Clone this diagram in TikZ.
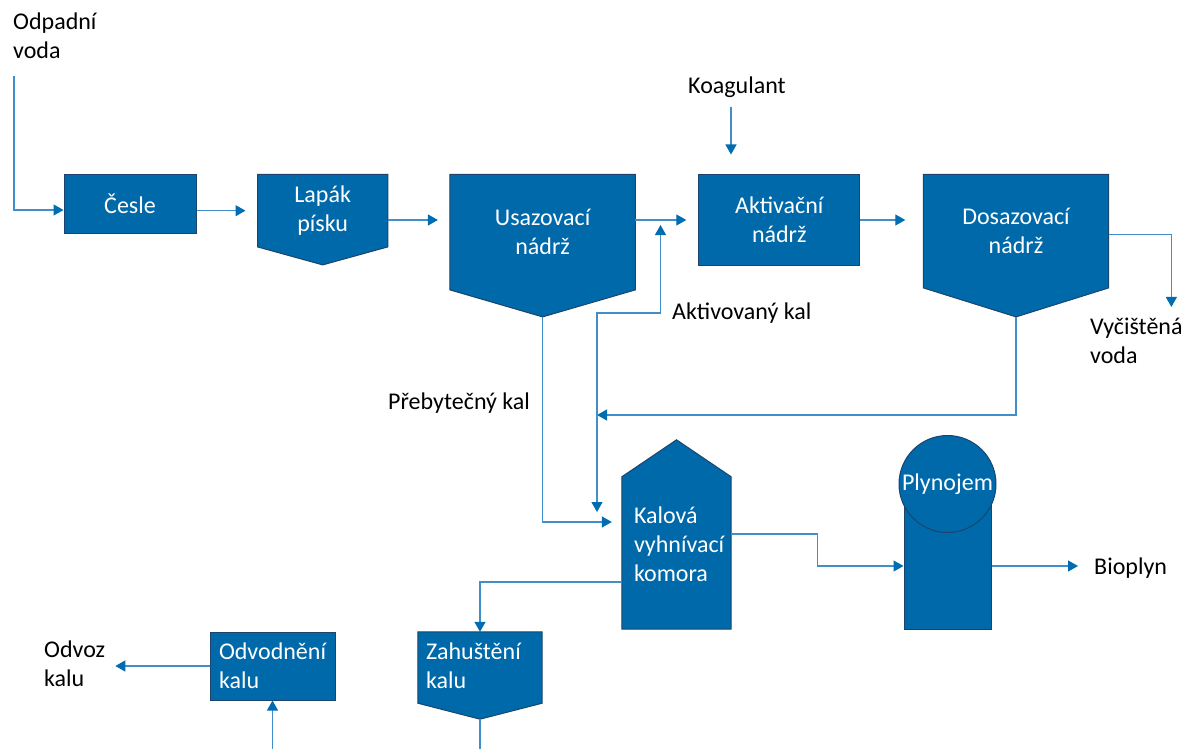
\documentclass[tikz,border=0pt]{standalone}
\usepackage{fontspec}
\setmainfont{Carlito}
\usetikzlibrary{arrows.meta, positioning, calc}
\definecolor{tankblue}{RGB}{0,105,170}
\definecolor{tankedge}{RGB}{28,68,108}
\definecolor{pipeblue}{RGB}{64,142,202}
\definecolor{tipblue}{RGB}{0,108,178}
\tikzset{unit/.style = {
  % Rectangle (outline drawn later):
  rectangle, inner sep=0pt,
  % Text
  text=white, align=center
  }}
\tikzset{box/.style = {
  unit,
  fill=tankblue,
  draw=tankedge, line width=1pt
  }}
\tikzset{txt/.style = {
  inner sep=0pt, align=left, text=black
  }}
\tikzset{pipe/.style = {
  draw=pipeblue,
  line width=1.2pt
  }}
\tikzset{flow/.style = {
  pipe,
  -{Triangle[length=10pt, width=11pt, color=tipblue]}
  }}
\newcommand{\tankdown}[2]{% node, depth of the point
  \filldraw[fill=tankblue, draw=tankedge, line width=1pt]
    (#1.north west) -- (#1.north east) -- (#1.south east)
    -- ($(#1.south)+(0,#2)$) coordinate (#1-tip) -- (#1.south west) -- cycle;}
\newcommand{\tankup}[2]{% node, height of the roof
  \filldraw[fill=tankblue, draw=tankedge, line width=1pt]
    (#1.south west) -- (#1.south east) -- (#1.north east)
    -- ($(#1.north)+(0,-#2)$) -- (#1.north west) -- cycle;}

\begin{document}
\begin{tikzpicture}[x=1pt, y=-1pt, every node/.style={font=\fontsize{24}{29}\selectfont}]
% LAYERS
\pgfdeclarelayer{bg}
\pgfsetlayers{bg,main}
\useasboundingbox (0,0) rectangle (1184,749);

% NODES
\node (cesle) [box, minimum width=132pt, minimum height=58pt] at (130,204) {Česle};
\node (lapak) [unit, minimum width=130pt, minimum height=72pt, right=61pt of cesle.north east, anchor=north west] {Lapák\\písku};
\node (usaz) [unit, minimum width=185pt, minimum height=115pt, right=62pt of lapak.north east, anchor=north west] {Usazovací\\nádrž};
\node (aktiv) [box, minimum width=161pt, minimum height=90pt, right=63pt of usaz.north east, anchor=north west] {Aktivační\\nádrž};
\node (dosaz) [unit, minimum width=185pt, minimum height=113pt, right=63pt of aktiv.north east, anchor=north west] {Dosazovací\\nádrž};

\node (kalova) [unit, align=left, text width=85pt, text depth=76pt, minimum width=109pt, minimum height=152pt] at (676.5,553) {Kalová\\vyhnívací\\komora};
\node (plyn) [box, minimum width=87pt, minimum height=126pt] at (947.5,566) {};
\node (plynhead) [box, circle, minimum size=97pt] at (947.5,484) {Plynojem};
\node (zahus) [unit, align=left, text width=108pt, text depth=32pt, minimum width=124pt, minimum height=71pt] at (480,667.5) {Zahuštění\\kalu};
\node (odvod) [box, align=left, text width=107pt, minimum width=125pt, minimum height=68pt] at (272.5,666) {Odvodnění\\kalu};

\node (odpad) [txt, anchor=west] at (13,36) {Odpadní\\voda};
\node (koag) [txt] at (737,87) {Koagulant};
\node (aktkal) [txt, anchor=west] at (672,313) {Aktivovaný kal};
\node (prebyt) [txt, anchor=west] at (388,403) {Přebytečný kal};
\node (vycist) [txt, anchor=west] at (1090,341) {Vyčištěná\\voda};
\node (bioplyn) [txt, anchor=west] at (1094,568) {Bioplyn};
\node (odvoz) [txt, anchor=west] at (44,664) {Odvoz\\kalu};

\begin{pgfonlayer}{bg}
\tankdown{lapak}{18}
\tankdown{usaz}{27}
\tankdown{dosaz}{29}
\tankdown{zahus}{16}
\tankup{kalova}{37}
\end{pgfonlayer}

\coordinate (mix) at ($(usaz.east |- aktiv.west)!0.4!(aktiv.west)$);
\coordinate (ret) at (597,415);

% arrows
\draw [flow] (odpad.south west) ++(1,17) |- ([yshift=-6pt]cesle.west);
\draw [flow, shorten >=12pt] (cesle.east |- lapak.west) -- (lapak.west);
\draw [flow, shorten >=12pt] (lapak.east |- aktiv.west) -- (usaz.west |- aktiv.west);
\draw [flow, shorten >=12pt] (usaz.east |- aktiv.west) -- (aktiv.west);
\draw [flow, shorten >=18pt] (aktiv.east) -- (dosaz.west |- aktiv.east);
\draw [flow, shorten >=20pt] ([xshift=-6pt, yshift=-9pt]koag.south) -- ([xshift=-6pt]koag.south |- aktiv.north);
\draw [flow] ([yshift=-3.5pt]dosaz.east) -| ([xshift=35pt, yshift=11pt]vycist.north);

\draw [flow] (dosaz-tip) |- (ret);
\draw [flow] (ret) |- ([xshift=-13pt]aktkal.west) -| ([yshift=-5pt]mix);
\draw [flow] (ret) -- ++(0,97);
\draw [flow, shorten >=10pt] (usaz-tip) |- ([yshift=31pt]kalova.west);

\draw [flow] ([yshift=19pt]kalova.east) -| ($(kalova.east)!0.5!(plyn.west)$) |- (plyn.west);
\draw [flow, shorten >=16pt] (plyn.east) -- (bioplyn.west |- plyn.east);
\draw [flow] ([yshift=-29pt]kalova.west) -| (zahus.north);
\draw [pipe] (zahus-tip) -- ++(0,40);
\draw [flow] (odvod.south) ++(0,60) -- (odvod.south);
\draw [flow, shorten >=10pt] (odvod.west) -- (odvoz.east |- odvod.west);
\end{tikzpicture}
\end{document}
